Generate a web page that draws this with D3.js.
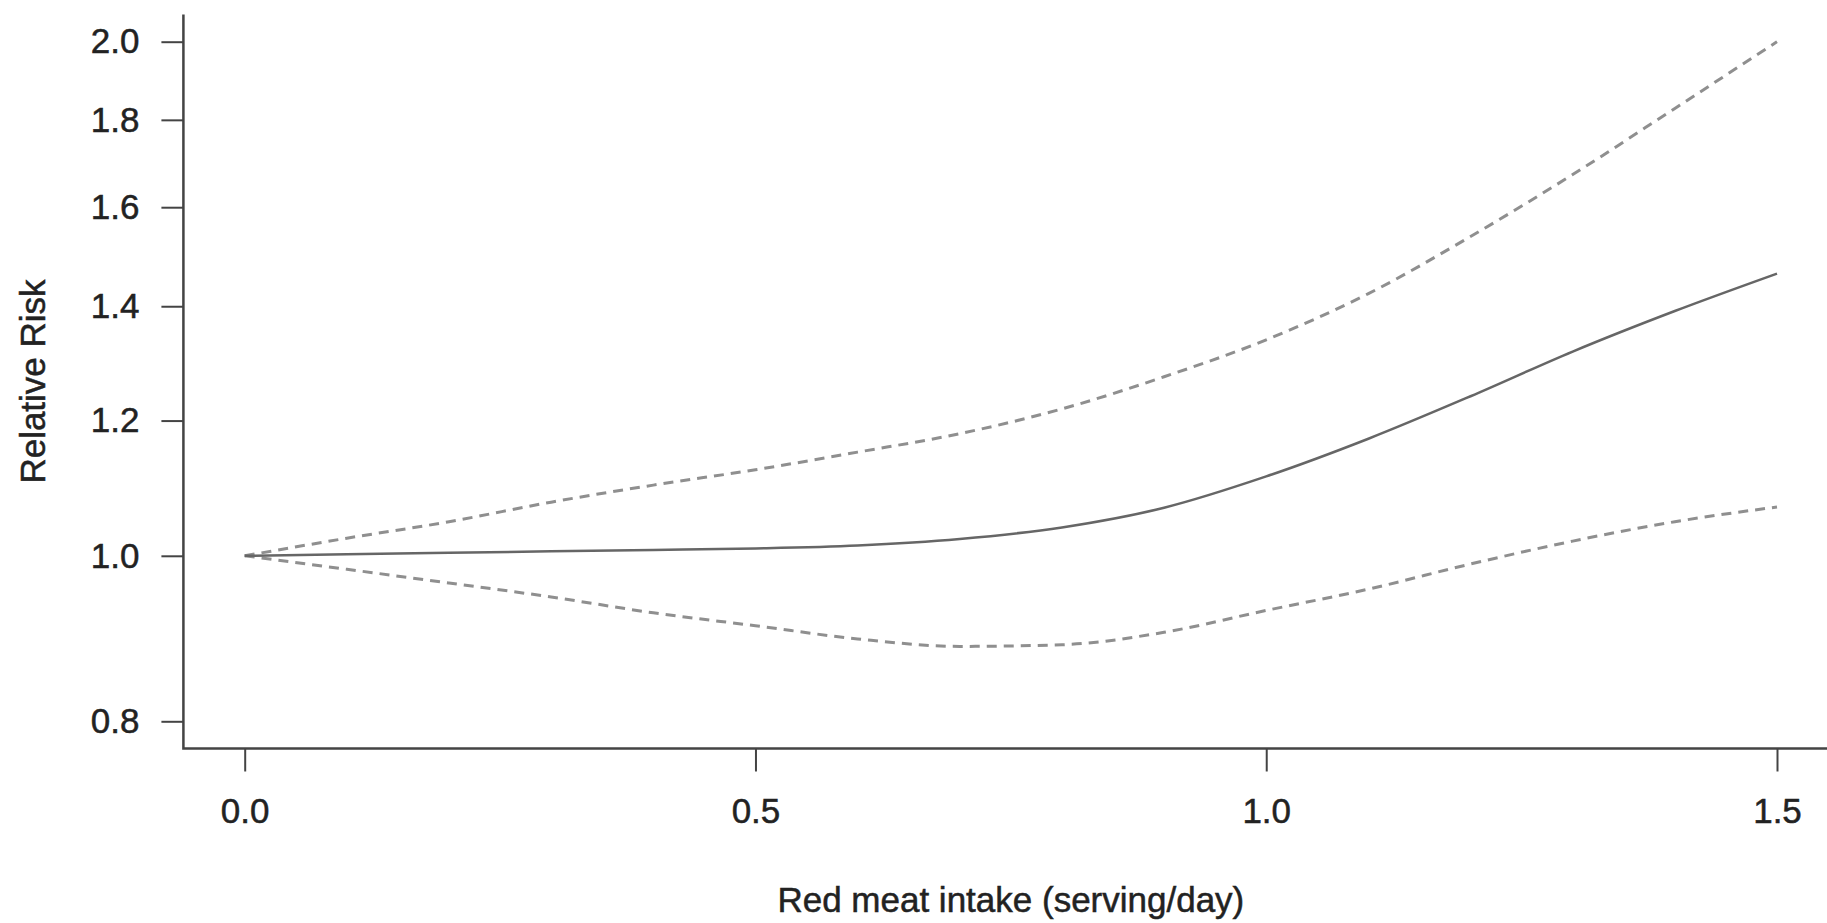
<!DOCTYPE html>
<html>
<head>
<meta charset="utf-8">
<script src="https://cdn.jsdelivr.net/npm/d3@7"></script>
<style>
  html, body { margin: 0; padding: 0; background: #fff; }
  svg { display: block; font-family: "Liberation Sans", Arial, sans-serif; }
</style>
</head>
<body>
<div id="chart"></div>
<script>
// red meat intake (serving/day)
var intake = [0.0, 0.1, 0.2, 0.3, 0.4, 0.5, 0.6, 0.7, 0.8, 0.9, 1.0, 1.1, 1.2, 1.3, 1.4, 1.5];
// relative risk, point estimate
var rr = [1.000, 1.002, 1.004, 1.006, 1.008, 1.010, 1.014, 1.023, 1.039, 1.067, 1.113, 1.171, 1.240, 1.317, 1.391, 1.463];
// 95% CI
var upper = [1.000, 1.024, 1.047, 1.075, 1.100, 1.123, 1.150, 1.179, 1.219, 1.273, 1.338, 1.424, 1.538, 1.672, 1.828, 2.000];
var lower = [1.000, 0.982, 0.964, 0.946, 0.926, 0.910, 0.894, 0.885, 0.887, 0.902, 0.929, 0.956, 0.989, 1.020, 1.047, 1.068];

var xTicks = [0.0, 0.5, 1.0, 1.5];
var yTicks = [0.8, 1.0, 1.2, 1.4, 1.6, 1.8, 2.0];

var width = 1827, height = 923;

var svg = d3.select('#chart').append('svg')
    .attr('width', width)
    .attr('height', height);

var x = d3.scaleLinear().domain([0, 1.5]).range([244.7, 1777]);
var y = d3.scaleLog().domain([0.8, 2.0]).range([721.3, 41.7]);

// plot region, R style: data range + 4% each side
var xPad = 0.04 * 1.5;
var plotLeft = x(-xPad), plotRight = x(1.5 + xPad);
var lnPad = 0.04 * Math.log(2.0 / 0.8);
var plotTop = y(2.0 * Math.exp(lnPad)), plotBottom = y(0.8 / Math.exp(lnPad));

var axisColor = '#444';
var textColor = '#222';
var fontSize = 35;

var styleText = function(sel) {
  sel.attr('fill', textColor)
     .attr('stroke', textColor)
     .attr('stroke-width', 0.5)
     .style('font-size', fontSize + 'px')
     .style('font-family', '"Liberation Sans", Arial, sans-serif');
};

// L-shaped box
svg.append('path')
    .attr('d', 'M' + plotLeft + ',' + plotTop + 'V' + plotBottom + 'H' + plotRight)
    .attr('fill', 'none')
    .attr('stroke', axisColor)
    .attr('stroke-width', 2.5);

// y axis
var yAxis = d3.axisLeft(y)
    .tickValues(yTicks)
    .tickFormat(d3.format('.1f'))
    .tickSize(22)
    .tickPadding(22);

var gy = svg.append('g')
    .attr('transform', 'translate(' + plotLeft + ',0)')
    .call(yAxis);
gy.select('.domain').remove();
gy.selectAll('.tick line').attr('stroke', axisColor).attr('stroke-width', 2);
gy.selectAll('.tick text').call(styleText);

// x axis
var xAxis = d3.axisBottom(x)
    .tickValues(xTicks)
    .tickFormat(d3.format('.1f'))
    .tickSize(23)
    .tickPadding(27);

var gx = svg.append('g')
    .attr('transform', 'translate(0,' + plotBottom + ')')
    .call(xAxis);
gx.select('.domain').remove();
gx.selectAll('.tick line').attr('stroke', axisColor).attr('stroke-width', 2);
gx.selectAll('.tick text').call(styleText);

// curves
var line = function(values) {
  return d3.line()
      .x(function(d, i) { return x(intake[i]); })
      .y(function(d) { return y(d); })
      .curve(d3.curveMonotoneX)(values);
};

svg.append('path')
    .attr('d', line(upper))
    .attr('fill', 'none')
    .attr('stroke', '#8f8f8f')
    .attr('stroke-width', 3)
    .attr('stroke-dasharray', '10,7');

svg.append('path')
    .attr('d', line(lower))
    .attr('fill', 'none')
    .attr('stroke', '#8f8f8f')
    .attr('stroke-width', 3)
    .attr('stroke-dasharray', '10,7');

svg.append('path')
    .attr('d', line(rr))
    .attr('fill', 'none')
    .attr('stroke', '#666')
    .attr('stroke-width', 2.5);

// titles
svg.append('text')
    .attr('x', (plotLeft + plotRight) / 2)
    .attr('y', 912)
    .attr('text-anchor', 'middle')
    .call(styleText)
    .text('Red meat intake (serving/day)');

svg.append('text')
    .attr('transform', 'translate(45,' + ((plotTop + plotBottom) / 2) + ') rotate(-90)')
    .attr('text-anchor', 'middle')
    .call(styleText)
    .text('Relative Risk');
</script>
</body>
</html>
